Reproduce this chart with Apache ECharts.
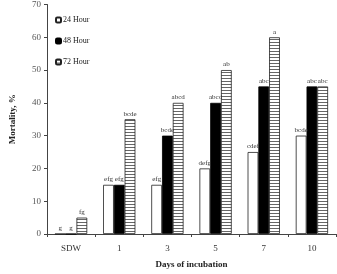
<!DOCTYPE html>
<html>
<head>
<meta charset="utf-8">
<script src="https://cdn.jsdelivr.net/npm/echarts@6/dist/echarts.min.js"></script>
<style>
  html, body { margin: 0; padding: 0; background: #fff; }
  #chart { width: 337px; height: 274px; }
</style>
</head>
<body>
<div id="chart"></div>
<script>
  // data
  const days = ['SDW', '1', '3', '5', '7', '10'];
  const h24 = [0, 15, 15, 20, 25, 30];
  const h48 = [0, 15, 30, 40, 45, 45];
  const h72 = [5, 35, 40, 50, 60, 45];
  const lab24 = ['g', 'efg', 'efg', 'defg', 'cdef', 'bcde'];
  const lab48 = ['g', 'efg', 'bcde', 'abcd', 'abc', 'abc'];
  const lab72 = ['fg', 'bcde', 'abcd', 'ab', 'a', 'abc'];

  // horizontal stripes for the 72 hour bars
  const pc = document.createElement('canvas');
  pc.width = 4; pc.height = 3;
  const ctx = pc.getContext('2d');
  ctx.fillStyle = '#fff';
  ctx.fillRect(0, 0, 4, 3);
  ctx.fillStyle = '#666';
  ctx.fillRect(0, 0, 4, 1);

  const serif = 'Liberation Serif';

  function mkLabel(arr) {
    return {
      show: true,
      position: 'top',
      distance: 2,
      fontFamily: serif,
      fontSize: 7,
      color: '#333',
      formatter: p => arr[p.dataIndex]
    };
  }

  let myChart = echarts.init(document.getElementById('chart'));
  myChart.setOption({
    animation: false,
    textStyle: { fontFamily: serif },
    grid: { left: 42, right: 1, top: 2, bottom: 34 },
    legend: {
      orient: 'vertical',
      left: 50,
      top: 11,
      itemGap: 13,
      itemWidth: 5,
      itemHeight: 5,
      textStyle: { fontFamily: serif, fontSize: 8, color: '#222', padding: [0, 0, 0, -3] },
      data: ['24 Hour', '48 Hour', '72 Hour']
    },
    xAxis: {
      type: 'category',
      data: days,
      name: 'Days of incubation',
      nameLocation: 'middle',
      nameGap: 26,
      nameTextStyle: { fontFamily: serif, fontSize: 9, fontWeight: 'bold', color: '#222' },
      axisLine: { lineStyle: { color: '#444' } },
      axisTick: { show: true, length: 3, lineStyle: { color: '#444' } },
      axisLabel: { fontFamily: serif, fontSize: 9, color: '#333', margin: 10 }
    },
    yAxis: {
      type: 'value',
      min: 0,
      max: 70,
      interval: 10,
      name: 'Mortality, %',
      nameLocation: 'middle',
      nameGap: 30,
      nameTextStyle: { fontFamily: serif, fontSize: 9, fontWeight: 'bold', color: '#222' },
      axisLine: { show: true, lineStyle: { color: '#444' } },
      axisTick: { show: true, length: 3, lineStyle: { color: '#444' } },
      splitLine: { show: false },
      axisLabel: { fontFamily: serif, fontSize: 9, color: '#555', margin: 6 }
    },
    series: [
      {
        name: '24 Hour',
        type: 'bar',
        data: h24,
        barGap: '0%',
        barCategoryGap: '33%',
        itemStyle: { color: '#fff', borderColor: '#222', borderWidth: 0.8 },
        label: mkLabel(lab24)
      },
      {
        name: '48 Hour',
        type: 'bar',
        data: h48,
        itemStyle: { color: '#000', borderColor: '#000', borderWidth: 0.8 },
        label: mkLabel(lab48)
      },
      {
        name: '72 Hour',
        type: 'bar',
        data: h72,
        itemStyle: { color: { image: pc, repeat: 'repeat' }, borderColor: '#222', borderWidth: 0.8 },
        label: mkLabel(lab72)
      }
    ]
  });
</script>
</body>
</html>
